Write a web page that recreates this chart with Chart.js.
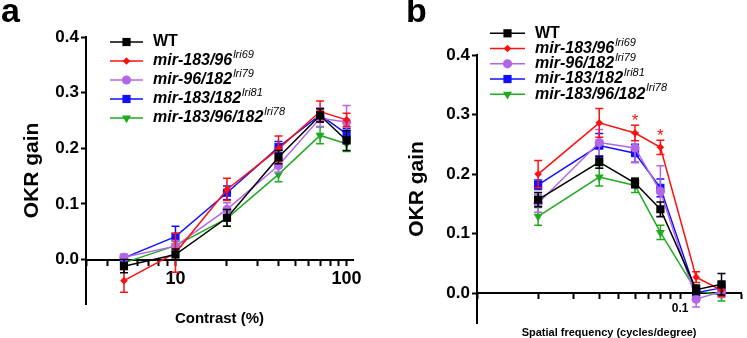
<!DOCTYPE html>
<html>
<head>
<meta charset="utf-8">
<script src="https://cdn.jsdelivr.net/npm/chart.js@4.4.1/dist/chart.umd.min.js"></script>
<style>
body { margin: 0; background: #fff; width: 747px; height: 338px; overflow: hidden; position: relative; font-family: 'Liberation Sans', Arial, sans-serif; }
canvas { position: absolute; top: 0; }
.tag { position: absolute; font-weight: bold; font-size: 34px; line-height: 34px; }
</style>
</head>
<body>
<canvas id="chartA" style="left:0" width="373" height="338"></canvas>
<canvas id="chartB" style="left:373px" width="374" height="338"></canvas>
<div class="tag" style="left:1px;top:-7px">a</div>
<div class="tag" style="left:406px;top:-7px">b</div>
<script>
// groups, in draw / legend order
var groups = ['WT', 'mir-183/96', 'mir-96/182', 'mir-183/182', 'mir-183/96/182']
var alleles = ['', 'lri69', 'lri79', 'lri81', 'lri78']
var colors = ['#000000', '#ff1010', '#b366e6', '#1010ff', '#1faa1f']
var markers = ['rect', 'rectRot', 'circle', 'rect', 'triangle']
var markerSize = [5.8, 3.8, 4.6, 5.8, 5.2]

// contrast sensitivity
var contrast = [5, 10, 20, 40, 70, 100]
var wtContrast = [-0.012, 0.009, 0.075, 0.184, 0.259, 0.214]
var lri69Contrast = [-0.038, 0.012, 0.126, 0.199, 0.266, 0.251]
var lri79Contrast = [0.004, 0.024, 0.090, 0.169, 0.254, 0.247]
var lri81Contrast = [0.003, 0.041, 0.120, 0.202, 0.260, 0.226]
var lri78Contrast = [-0.006, 0.025, 0.074, 0.153, 0.223, 0.208]
var wtContrastErr = [0.012, 0.010, 0.015, 0.012, 0.012, 0.018]
var lri69ContrastErr = [0.021, 0.035, 0.020, 0.023, 0.019, 0.012]
var lri79ContrastErr = [0.005, 0.010, 0.012, 0.012, 0.015, 0.030]
var lri81ContrastErr = [0.005, 0.019, 0.012, 0.010, 0.012, 0.010]
var lri78ContrastErr = [0.006, 0.008, 0.014, 0.013, 0.015, 0.014]
var contrastLabels = [10, 100]

// spatial frequency
var freq = [0.02, 0.04, 0.06, 0.08, 0.12, 0.16]
var wtFreq = [0.157, 0.220, 0.185, 0.141, 0.006, 0.015]
var lri69Freq = [0.200, 0.286, 0.269, 0.245, 0.027, 0.005]
var lri79Freq = [0.151, 0.253, 0.244, 0.171, -0.010, 0.003]
var lri81Freq = [0.182, 0.248, 0.235, 0.177, 0.001, 0.009]
var lri78Freq = [0.129, 0.195, 0.181, 0.102, 0.004, -0.003]
var wtFreqErr = [0.012, 0.010, 0.008, 0.012, 0.008, 0.018]
var lri69FreqErr = [0.023, 0.024, 0.013, 0.012, 0.009, 0.010]
var lri79FreqErr = [0.015, 0.022, 0.025, 0.043, 0.013, 0.010]
var lri81FreqErr = [0.008, 0.020, 0.015, 0.015, 0.008, 0.010]
var lri78FreqErr = [0.015, 0.015, 0.012, 0.012, 0.008, 0.010]
var freqLabels = [0.1]
var starPoints = [2, 3]   // significant points of mir-183/96

Chart.defaults.font.family = "'Liberation Sans', Arial, sans-serif"
Chart.defaults.color = '#000'

function makeSets(xs, ys, errs) {
    var sets = []
    for (var i = 0; i < groups.length; i++) {
        var pts = []
        for (var j = 0; j < xs.length; j++) {
            pts.push({x: xs[j], y: ys[i][j]})
        }
        sets.push({
            label: groups[i],
            data: pts,
            errors: errs[i],
            borderColor: colors[i],
            backgroundColor: colors[i],
            borderWidth: 1.5,
            pointStyle: markers[i],
            pointRadius: markerSize[i],
            pointRotation: markers[i] == 'triangle' ? 180 : 0,
            pointBorderWidth: 0,
            tension: 0
        })
    }
    return sets
}

var errorBars = {
    id: 'errorBars',
    beforeDatasetDraw(chart, args) {
        var ds = chart.data.datasets[args.index]
        var y = chart.scales.y
        var ctx = chart.ctx
        ctx.save()
        ctx.strokeStyle = ds.borderColor
        ctx.lineWidth = 1.5
        args.meta.data.forEach(function (pt, j) {
            var v = ds.data[j].y
            var top = y.getPixelForValue(v + ds.errors[j])
            var bot = y.getPixelForValue(v - ds.errors[j])
            ctx.beginPath()
            ctx.moveTo(pt.x, top); ctx.lineTo(pt.x, bot)
            ctx.moveTo(pt.x - 4, top); ctx.lineTo(pt.x + 4, top)
            ctx.moveTo(pt.x - 4, bot); ctx.lineTo(pt.x + 4, bot)
            ctx.stroke()
        })
        ctx.restore()
    }
}

var groupLegend = {
    id: 'groupLegend',
    afterDraw(chart, args, opts) {
        var ctx = chart.ctx
        ctx.save()
        chart.data.datasets.forEach(function (ds, i) {
            var y = opts.top + i * opts.step
            ctx.strokeStyle = ds.borderColor
            ctx.fillStyle = ds.borderColor
            ctx.lineWidth = 1.5
            ctx.beginPath()
            ctx.moveTo(opts.left, y); ctx.lineTo(opts.left + opts.lineLen, y)
            ctx.stroke()
            Chart.helpers.drawPoint(ctx, {
                pointStyle: ds.pointStyle, radius: ds.pointRadius,
                rotation: ds.pointRotation, borderWidth: 0
            }, opts.left + opts.lineLen / 2, y)

            ctx.fillStyle = '#000'
            ctx.textBaseline = 'middle'
            ctx.font = (i ? 'italic ' : '') + 'bold 16px "Liberation Sans"'
            ctx.fillText(ds.label, opts.textX, y)
            if (alleles[i]) {
                var w = ctx.measureText(ds.label).width
                ctx.font = 'italic 11px "Liberation Sans"'
                ctx.fillText(alleles[i], opts.textX + w + 1, y - 6)
            }
        })
        ctx.restore()
    }
}

var stars = {
    id: 'stars',
    afterDatasetsDraw(chart, args, opts) {
        if (!opts.points) return
        var ds = chart.data.datasets[1]
        var meta = chart.getDatasetMeta(1)
        var ctx = chart.ctx
        ctx.save()
        ctx.fillStyle = ds.borderColor
        ctx.font = '17px "Liberation Sans"'
        ctx.textAlign = 'center'
        ctx.textBaseline = 'alphabetic'
        opts.points.forEach(function (j) {
            var top = chart.scales.y.getPixelForValue(ds.data[j].y + ds.errors[j])
            ctx.fillText('*', meta.data[j].x, top + 1)
        })
        ctx.restore()
    }
}

function niceTicks(scale) {
    scale.ticks = scale.ticks.filter(function (t) {
        var s = t.value / Math.pow(10, Math.floor(Math.log10(t.value) + 1e-9))
        return Math.abs(s - Math.round(s)) < 1e-6
    })
}

function makeChart(id, cfg) {
    return new Chart(document.getElementById(id), {
        type: 'line',
        data: {datasets: cfg.sets},
        plugins: [errorBars, groupLegend, stars],
        options: {
            responsive: false,
            animation: false,
            layout: {padding: cfg.padding},
            plugins: {
                legend: {display: false},
                tooltip: {enabled: false},
                groupLegend: cfg.legend,
                stars: {points: cfg.stars}
            },
            scales: {
                x: {
                    type: 'logarithmic',
                    min: cfg.xMin,
                    max: cfg.xMax,
                    position: {y: 0},
                    border: {color: '#000', width: 2},
                    grid: {drawOnChartArea: false, tickLength: 5, tickWidth: 2, tickColor: '#000'},
                    afterBuildTicks: niceTicks,
                    ticks: {
                        autoSkip: false, maxRotation: 0, padding: cfg.xTickPad,
                        font: {size: cfg.xTickSize, weight: 'bold'},
                        callback: function (v) {
                            for (var k = 0; k < cfg.xLabels.length; k++) {
                                if (Math.abs(v - cfg.xLabels[k]) < 1e-9) return String(cfg.xLabels[k])
                            }
                            return ''
                        }
                    },
                    title: {
                        display: true, text: cfg.xTitle,
                        font: {size: cfg.xTitleSize, weight: 'bold'},
                        padding: {top: cfg.xTitlePad, bottom: 0}
                    }
                },
                y: {
                    min: cfg.yMin,
                    max: 0.4,
                    border: {color: '#000', width: 2},
                    grid: {drawOnChartArea: false, tickLength: 5, tickWidth: 2, tickColor: '#000'},
                    afterBuildTicks: function (s) {
                        s.ticks = s.ticks.filter(function (t) { return t.value > -1e-9 })
                    },
                    afterFit: function (s) { s.width = cfg.yWidth },
                    ticks: {
                        stepSize: 0.1, padding: 2,
                        font: {size: 17, weight: 'bold'},
                        callback: function (v) { return v.toFixed(1) }
                    },
                    title: {
                        display: true, text: 'OKR gain',
                        font: {size: 21, weight: 'bold'},
                        padding: {top: cfg.yTitlePad, bottom: 0}
                    }
                }
            }
        }
    })
}

makeChart('chartA', {
    sets: makeSets(contrast,
        [wtContrast, lri69Contrast, lri79Contrast, lri81Contrast, lri78Contrast],
        [wtContrastErr, lri69ContrastErr, lri79ContrastErr, lri81ContrastErr, lri78ContrastErr]),
    padding: {left: 0, right: 20, top: 37, bottom: 34},
    xMin: 3, xMax: 109, xLabels: contrastLabels,
    xTickSize: 18, xTickPad: 4,
    xTitle: 'Contrast (%)', xTitleSize: 15, xTitlePad: 16,
    yMin: -0.08, yWidth: 86, yTitlePad: 20,
    legend: {left: 110, lineLen: 33, textX: 153, top: 42, step: 19},
    stars: null
})

makeChart('chartB', {
    sets: makeSets(freq,
        [wtFreq, lri69Freq, lri79Freq, lri81Freq, lri78Freq],
        [wtFreqErr, lri69FreqErr, lri79FreqErr, lri81FreqErr, lri78FreqErr]),
    padding: {left: 0, right: 3, top: 55, bottom: 15},
    xMin: 0.01, xMax: 0.2, xLabels: freqLabels,
    xTickSize: 12, xTickPad: 3,
    xTitle: 'Spatial frequency (cycles/degree)', xTitleSize: 11, xTitlePad: 8,
    yMin: -0.05, yWidth: 104, yTitlePad: 32,
    legend: {left: 117, lineLen: 35, textX: 162, top: 33.3, step: 15.25},
    stars: starPoints
})
</script>
</body>
</html>
